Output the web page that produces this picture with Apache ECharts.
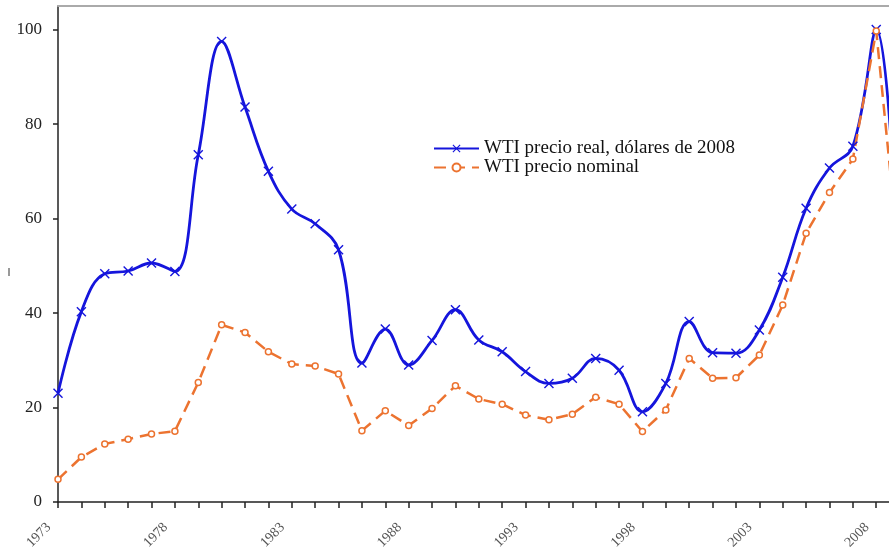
<!DOCTYPE html>
<html>
<head>
<meta charset="utf-8">
<script src="https://cdn.jsdelivr.net/npm/echarts@6/dist/echarts.min.js"></script>
<style>
  html, body { margin: 0; padding: 0; background: #fff; }
  #chart { width: 889px; height: 550px; }
</style>
</head>
<body>
<div id="chart"></div>
<script>
// Chart data
// ------------------------------

var years = [];
for (var y = 1973; y <= 2010; y++) { years.push(String(y)); }

var realPrice = [
    23.0, 40.3, 48.3, 48.9, 50.6, 48.8, 73.5, 97.5, 83.6, 70.0,
    62.0, 58.9, 53.4, 29.4, 36.6, 29.0, 34.2, 40.7, 34.3, 31.8,
    27.6, 25.1, 26.2, 30.4, 27.9, 19.1, 25.1, 38.2, 31.6, 31.5,
    36.4, 47.6, 62.2, 70.7, 75.3, 100.0, 41.0, null
];

var nominalPrice = [
    4.8, 9.5, 12.3, 13.3, 14.4, 15.0, 25.3, 37.5, 35.9, 31.8,
    29.2, 28.8, 27.1, 15.1, 19.3, 16.2, 19.8, 24.6, 21.8, 20.7,
    18.4, 17.4, 18.6, 22.2, 20.7, 14.9, 19.5, 30.4, 26.2, 26.3,
    31.1, 41.7, 56.9, 65.5, 72.6, 99.7, 50.0, null
];

var yTicks = [0, 20, 40, 60, 80, 100];
var seriesNames = ['WTI precio real, dólares de 2008', 'WTI precio nominal'];

// Setup chart
// ------------------------------

var blue = '#1515dc';
var orange = '#ec7330';
var serif = '"Liberation Serif", "DejaVu Serif", serif';
var crossSymbol = 'path://M0,1L1,0L5,4L9,0L10,1L6,5L10,9L9,10L5,6L1,10L0,9L4,5Z';

var chart = echarts.init(document.getElementById('chart'));

chart.setOption({
    animation: false,
    backgroundColor: '#fff',

    // plot area runs past the right edge, as in the cropped original
    grid: {
        left: 58,
        top: 6,
        width: 865,
        height: 496,
        containLabel: false,
        outerBoundsMode: 'none'
    },

    legend: {
        orient: 'vertical',
        left: 428,
        top: 134,
        itemWidth: 45,
        itemHeight: 10,
        itemGap: 0,
        data: seriesNames,
        textStyle: {
            fontFamily: serif,
            fontSize: 19,
            lineHeight: 18,
            color: '#111'
        }
    },

    xAxis: [{
        type: 'category',
        data: years,
        boundaryGap: false,
        axisLine: { lineStyle: { color: '#222', width: 1.5 } },
        axisTick: { show: true, interval: 0, length: 6, lineStyle: { color: '#222', width: 1.5 } },
        axisLabel: {
            interval: 4,
            rotate: 45,
            margin: 14,
            padding: [0, 13, 0, 0],
            fontFamily: serif,
            fontSize: 14,
            color: '#555'
        },
        splitLine: { show: false }
    }, {
        type: 'category',
        data: years,
        boundaryGap: false,
        position: 'top',
        axisLine: { lineStyle: { color: '#aaa', width: 2 } },
        axisTick: { show: false },
        axisLabel: { show: false },
        splitLine: { show: false }
    }],

    yAxis: {
        type: 'value',
        min: 0,
        max: 105,
        axisLine: { show: true, lineStyle: { color: '#222', width: 1.5 } },
        axisTick: { show: true, length: 5, customValues: yTicks, lineStyle: { color: '#222', width: 1.5 } },
        axisLabel: {
            customValues: yTicks,
            margin: 16,
            fontFamily: serif,
            fontSize: 17,
            color: '#222'
        },
        splitLine: { show: false }
    },

    graphic: [{
        type: 'rect',
        left: 8,
        top: 268,
        shape: { width: 2, height: 8 },
        style: { fill: '#999' }
    }],

    series: [{
        name: seriesNames[0],
        type: 'line',
        data: realPrice,
        smooth: 0.4,
        symbol: crossSymbol,
        symbolSize: 10,
        showAllSymbol: true,
        lineStyle: { color: blue, width: 2.8 },
        itemStyle: { color: blue }
    }, {
        name: seriesNames[1],
        type: 'line',
        data: nominalPrice,
        symbol: 'circle',
        symbolSize: 6,
        showAllSymbol: true,
        lineStyle: { color: orange, width: 2.5, type: [12, 7] },
        itemStyle: { color: '#fff', borderColor: orange, borderWidth: 1.5 }
    }]
});
</script>
</body>
</html>
